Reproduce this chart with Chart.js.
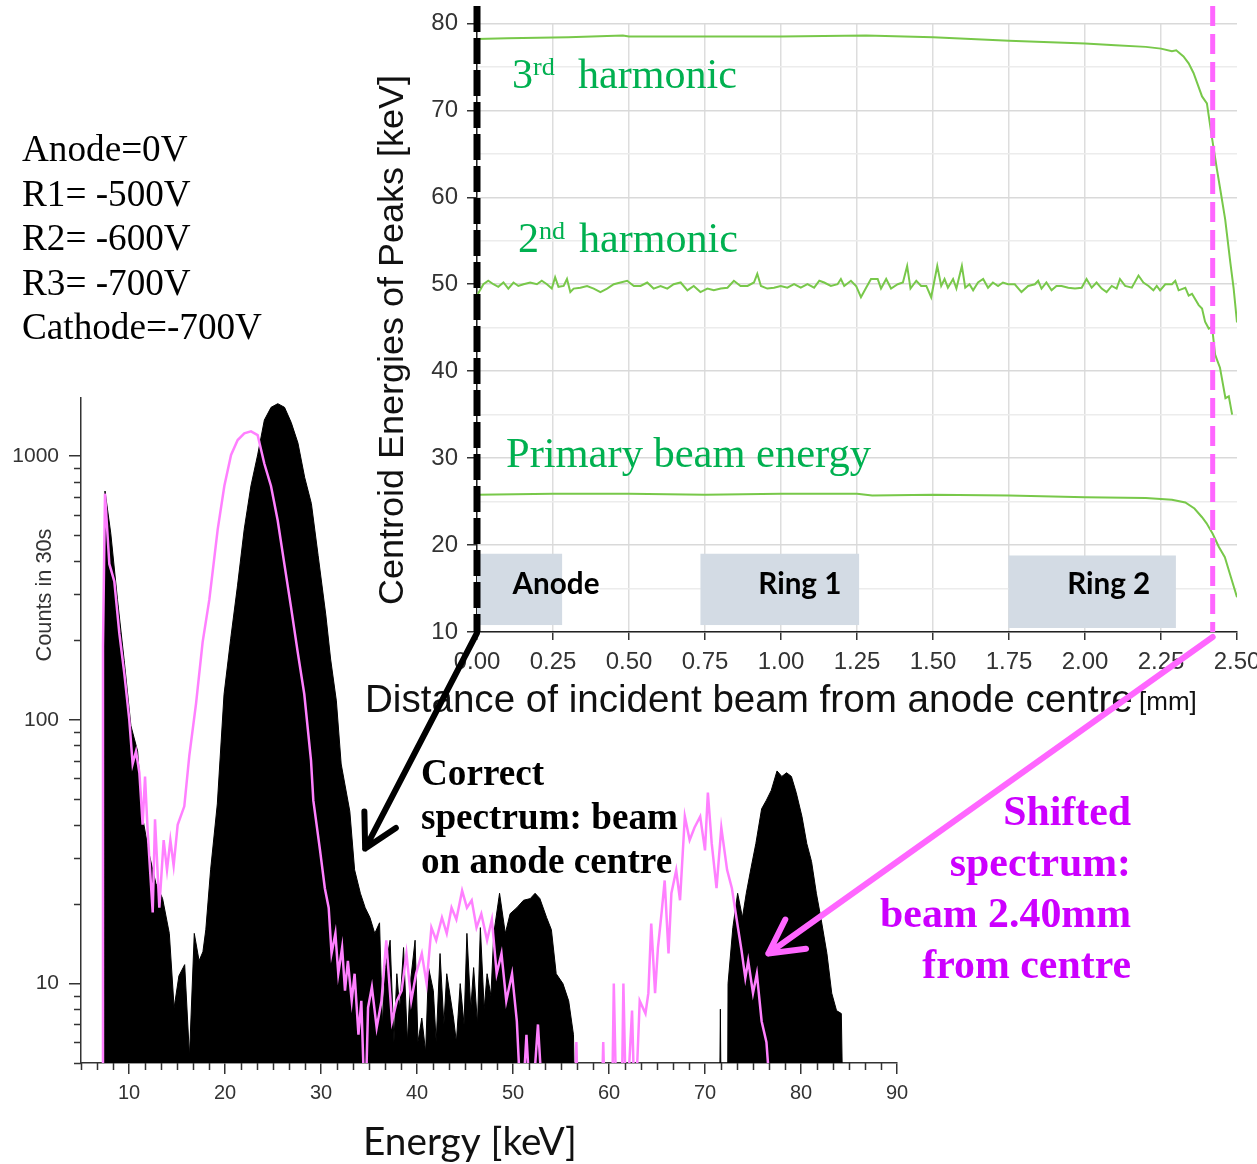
<!DOCTYPE html>
<html>
<head>
<meta charset="utf-8">
<script src="https://cdn.jsdelivr.net/npm/chart.js@4.4.1/dist/chart.umd.min.js"></script>
<style>
  html, body { margin: 0; padding: 0; background: #fff; overflow: hidden; }
  #wrap { position: relative; width: 1257px; height: 1164px; overflow: hidden; }
  canvas { position: absolute; left: 0; top: 0; }
</style>
</head>
<body>
<div id="wrap">
  <canvas id="spectrum" width="1320" height="1164"></canvas>
  <canvas id="centroid" width="1320" height="1164"></canvas>
</div>
<script>
'use strict';
// ---- spectrum (bottom left) ----
const energyTicks = [10, 20, 30, 40, 50, 60, 70, 80, 90];
const countTicks = [10, 100, 1000];

// correct spectrum: beam on anode centre
const correctE = [7.25, 7.3, 7.5, 8.1, 8.8, 9.5, 10.2, 10.9, 11.4, 12.1, 12.8, 13.5, 14.2, 14.7, 15.2, 15.8, 16.3, 16.8, 17.3, 17.7,
  18.0, 18.5, 19.2, 19.9, 20.6, 21.3, 22.0, 22.7, 23.4, 24.1, 24.8, 25.5, 26.2, 26.9, 27.6, 28.3, 29.0, 29.7, 30.5, 31.0,
  31.6, 32.1, 33.0, 33.5, 34.1, 34.6, 35.1, 35.6, 36.1, 36.4, 36.7, 37.2, 37.6, 37.9, 38.2, 38.6, 39.0, 39.3, 39.8, 40.1,
  40.5, 40.9, 41.2, 41.7, 42.0, 42.4, 42.8, 43.1, 43.8, 44.1, 44.5, 44.9, 45.2, 45.6, 45.9, 46.3, 46.6, 47.0, 47.3, 47.7,
  48.0, 48.6, 49.2, 49.7, 50.4, 51.1, 51.8, 52.3, 52.8, 53.5, 54.0, 54.5, 55.2, 55.8, 56.3, 56.7, 71.4, 71.6, 71.8, 72.3,
  72.4, 72.9, 73.4, 73.9, 74.3, 74.8, 75.3, 75.9, 76.4, 76.9, 77.5, 78.0, 78.5, 79.0, 79.5, 80.1, 80.6, 81.1, 81.6, 82.1,
  82.7, 83.2, 83.7, 84.2, 84.6];
const correctCounts = [1, 190, 737, 510, 286, 168, 95, 76, 43, 31, 24, 21, 15.5, 8.1, 10.7, 11.8, 5.3, 15.5, 12.2, 13.2,
  16, 27, 48, 125, 204, 322, 527, 770, 1010, 1370, 1530, 1580, 1530, 1340, 1120, 830, 660, 420, 250, 170,
  118, 68, 45, 27, 22, 19.4, 17.8, 15.5, 17, 7, 11.5, 14.6, 6, 10.9, 8, 13.7, 6, 10, 14.6, 6,
  7.4, 5.5, 11.5, 9.4, 6, 13, 7, 10.9, 7.4, 6, 10, 7, 15.5, 8, 11.5, 7, 16.3, 8, 10.9, 9,
  15.5, 22, 15.5, 18.4, 19.4, 20.7, 21, 22, 21, 17.8, 16, 10.9, 10, 8.6, 6.4, 1, 1, 8, 1, 1,
  10, 16.3, 22, 17.8, 22, 27.5, 34, 46, 49.6, 54, 64, 61, 63, 61, 53, 43, 34, 29, 22, 17.5,
  13, 9.2, 7.9, 7.7, 1];

// shifted spectrum: beam 2.40 mm from centre
const shiftedE = [7.25, 7.29, 7.5, 7.95, 8.47, 8.99, 9.51, 10.03, 10.38, 10.73, 11.08, 11.42, 11.67, 11.94, 12.47, 12.71, 13.16, 13.61, 13.96, 14.31,
  14.65, 15.07, 15.76, 16.28, 16.98, 17.67, 18.37, 19.24, 19.93, 20.63, 21.32, 22.01, 22.71, 23.4, 24.1, 24.79, 25.49, 26.18, 26.88, 27.57,
  28.26, 28.96, 29.2, 29.9, 30.4, 30.8, 31.1, 31.5, 31.8, 32.2, 32.5, 32.8, 33.2, 33.5, 33.9, 34.2, 34.6, 34.9, 35.3, 35.8,
  36.3, 36.8, 37.4, 37.9, 38.4, 38.9, 39.4, 39.9, 40.5, 41.0, 41.5, 42.0, 42.6, 43.1, 43.6, 44.1, 44.7, 45.2, 45.7, 46.2,
  46.7, 47.3, 47.8, 48.3, 48.8, 49.3, 49.9, 50.4, 50.9, 51.4, 51.9, 52.6, 53.2, 56.4, 56.6, 56.8, 59.2, 59.4, 59.6, 60.3,
  60.5, 60.8, 61.3, 61.5, 61.8, 62.4, 62.7, 63.2, 63.8, 64.1, 64.4, 64.8, 65.1, 65.5, 65.8, 66.2, 66.5, 67.0, 67.4, 67.9,
  68.4, 68.9, 69.5, 70.0, 70.3, 70.7, 71.2, 71.7, 72.3, 72.8, 73.3, 73.8, 74.2, 74.5, 75.0, 75.4, 75.9, 76.4, 77.0, 90];
const shiftedCounts = [3, 190, 720, 390, 335, 213, 150, 100, 68, 76, 63, 40, 61, 38, 18.6, 42, 19.4, 35, 27, 35,
  28, 40, 47, 73, 115, 197, 286, 527, 770, 1010, 1150, 1220, 1240, 1200, 935, 770, 570, 390, 267, 181,
  125, 70, 49.5, 32, 23, 19.4, 13, 15.5, 10.9, 13.7, 9.4, 12.2, 8.6, 10.9, 6.4, 8.6, 3, 8.1, 9.7, 6.8,
  8.6, 14.6, 7.2, 8.6, 9.4, 13, 8.6, 10.9, 13, 10, 16.3, 14.6, 17.8, 15.5, 19.4, 17.5, 22.5, 19.4, 20.7, 16.3,
  18.4, 14.6, 17.5, 10.9, 13, 8.6, 10.9, 7.2, 3, 6.4, 3, 7.0, 3, 3, 6, 3, 3, 6, 3, 3,
  10, 3, 3, 10, 3, 7.9, 3, 8.6, 7.7, 9.2, 16.9, 9.2, 13.7, 18.9, 24.6, 13, 22, 26.9, 20.7, 43,
  35, 39, 43, 32, 53, 34, 23, 39, 27, 23, 17.5, 13.4, 10.5, 12.2, 9.2, 10.9, 7.2, 6, 3, 3];

// ---- centroid energies (top right) ----
const harm3Pos = [0, 0.10, 0.30, 0.48, 0.50, 0.75, 1.00, 1.28, 1.50, 1.75, 2.00, 2.10, 2.20, 2.25, 2.286, 2.30, 2.324, 2.341, 2.357, 2.385,
  2.401, 2.417, 2.434, 2.445, 2.461, 2.478, 2.489, 2.500, 2.506];
const harm3Val = [78.2, 78.3, 78.4, 78.6, 78.5, 78.5, 78.5, 78.6, 78.4, 78.0, 77.7, 77.5, 77.3, 77.1, 76.8, 76.9, 76.2, 75.4, 74.3, 71.6,
  70.8, 67.0, 63.2, 60.9, 57.5, 52.5, 49.5, 45.6, 43.4];

const harm2Pos = [0.000, 0.021, 0.037, 0.054, 0.070, 0.087, 0.103, 0.120, 0.136, 0.153, 0.175, 0.197, 0.213, 0.230, 0.246, 0.257, 0.268, 0.285, 0.296, 0.307,
  0.318, 0.340, 0.362, 0.384, 0.406, 0.428, 0.450, 0.472, 0.494, 0.516, 0.538, 0.560, 0.581, 0.604, 0.626, 0.647, 0.670, 0.692, 0.713, 0.735,
  0.758, 0.779, 0.802, 0.824, 0.845, 0.867, 0.890, 0.911, 0.922, 0.934, 0.955, 0.977, 0.999, 1.021, 1.043, 1.065, 1.087, 1.109, 1.126, 1.142,
  1.164, 1.186, 1.197, 1.208, 1.230, 1.247, 1.263, 1.280, 1.296, 1.318, 1.329, 1.346, 1.362, 1.384, 1.401, 1.415, 1.426, 1.445, 1.461, 1.478,
  1.494, 1.514, 1.527, 1.538, 1.549, 1.566, 1.577, 1.595, 1.606, 1.620, 1.632, 1.648, 1.665, 1.681, 1.697, 1.714, 1.730, 1.747, 1.769, 1.791,
  1.813, 1.835, 1.846, 1.857, 1.873, 1.890, 1.906, 1.923, 1.945, 1.967, 1.989, 2.005, 2.022, 2.038, 2.055, 2.071, 2.088, 2.104, 2.115, 2.132,
  2.154, 2.176, 2.192, 2.209, 2.225, 2.236, 2.247, 2.264, 2.286, 2.297, 2.308, 2.330, 2.341, 2.352, 2.374, 2.385, 2.395, 2.407, 2.418, 2.428,
  2.444, 2.462, 2.473, 2.484];
const harm2Val = [48.7, 50.0, 50.4, 50.0, 49.7, 50.2, 49.5, 50.2, 49.8, 50.0, 50.2, 50.0, 50.4, 50.0, 49.5, 50.8, 49.7, 49.8, 50.6, 49.1,
  49.5, 49.6, 49.8, 49.5, 49.1, 49.5, 50.0, 50.2, 50.4, 49.8, 49.8, 50.2, 49.5, 49.8, 49.5, 50.0, 50.2, 49.3, 49.8, 49.1,
  49.5, 49.3, 49.5, 49.6, 50.4, 49.8, 49.8, 50.2, 51.2, 49.8, 49.5, 49.6, 49.8, 49.6, 50.0, 49.6, 50.0, 49.6, 50.4, 50.2,
  49.8, 50.0, 50.6, 49.8, 50.4, 49.8, 48.5, 49.6, 50.6, 50.6, 49.5, 50.6, 49.5, 50.0, 50.2, 52.1, 49.5, 50.4, 49.8, 49.8,
  48.5, 52.1, 49.8, 50.6, 49.6, 50.6, 49.5, 52.1, 49.6, 50.0, 49.3, 50.2, 50.6, 49.6, 50.2, 49.8, 50.2, 50.0, 50.0, 49.1,
  49.8, 50.0, 50.4, 49.5, 50.2, 49.3, 49.8, 49.8, 49.6, 49.5, 49.6, 50.6, 49.6, 50.2, 49.5, 49.1, 49.8, 49.5, 50.6, 49.8,
  49.6, 51.0, 50.2, 49.8, 49.3, 49.8, 49.3, 50.0, 50.0, 50.4, 49.3, 49.6, 48.7, 48.9, 47.6, 47.2, 45.7, 44.9, 45.1, 41.9,
  40.4, 36.9, 37.1, 35.0];

const primaryPos = [0, 0.25, 0.50, 0.75, 1.00, 1.25, 1.30, 1.50, 1.75, 2.00, 2.20, 2.286, 2.33, 2.36, 2.385, 2.40, 2.42, 2.44, 2.46, 2.48, 2.50];
const primaryVal = [25.8, 25.9, 25.9, 25.8, 25.9, 25.9, 25.7, 25.8, 25.7, 25.5, 25.4, 25.2, 24.9, 24.2, 23.2, 22.5, 21.3, 19.8, 18.6, 16.3, 14.0];

const shiftedPos = 2.42;   // mm, pink marker
const electrodes = [
  { name: 'Anode', from: 0, to: 0.28, low: 10.8, high: 19.0, textAt: 0.26 },
  { name: 'Ring 1', from: 0.735, to: 1.257, low: 10.8, high: 19.0, textAt: 1.062 },
  { name: 'Ring 2', from: 1.748, to: 2.299, low: 10.46, high: 18.8, textAt: 2.078 }
];
const voltages = ['Anode=0V', 'R1= -500V', 'R2= -600V', 'R3= -700V', 'Cathode=-700V'];

function toPoints(xs, ys) {
  return xs.map((x, i) => ({ x: x, y: ys[i] }));
}

function fitFont(ctx, text, weight, family, width) {
  ctx.font = weight + ' 100px "' + family + '"';
  return 100 * width / ctx.measureText(text).width;
}

function put(ctx, text, x, y, font, color, align) {
  ctx.font = font;
  ctx.fillStyle = color;
  ctx.textAlign = align || 'left';
  ctx.textBaseline = 'alphabetic';
  ctx.fillText(text, x, y);
}

function arrow(ctx, x1, y1, x2, y2, color, w, head, spread) {
  const a = Math.atan2(y1 - y2, x1 - x2);
  ctx.save();
  ctx.strokeStyle = color;
  ctx.lineWidth = w;
  ctx.lineCap = 'round';
  ctx.lineJoin = 'round';
  ctx.beginPath();
  ctx.moveTo(x1, y1);
  ctx.lineTo(x2, y2);
  ctx.moveTo(x2 + head * Math.cos(a - spread), y2 + head * Math.sin(a - spread));
  ctx.lineTo(x2, y2);
  ctx.lineTo(x2 + head * Math.cos(a + spread), y2 + head * Math.sin(a + spread));
  ctx.stroke();
  ctx.restore();
}

const spectrumDecor = {
  id: 'spectrumDecor',
  afterDraw(chart) {
    const { ctx, chartArea } = chart;
    const x = chart.scales.x, y = chart.scales.y;
    ctx.save();
    // minor ticks
    ctx.strokeStyle = '#333';
    ctx.lineWidth = 1.5;
    ctx.beginPath();
    for (let i = 0; i <= 51; i++) {
      const v = 5 + i * 10 / 6;
      if (Math.abs(v / 10 - Math.round(v / 10)) < 1e-6) continue;
      const px = Math.round(x.getPixelForValue(v)) + 0.5;
      ctx.moveTo(px, chartArea.bottom);
      ctx.lineTo(px, chartArea.bottom + 7);
    }
    [1, 10, 100].forEach(d => {
      for (let m = 2; m <= 9; m++) {
        const v = d * m;
        if (v < 5 || v > 1660) continue;
        const py = Math.round(y.getPixelForValue(v)) + 0.5;
        ctx.moveTo(chartArea.left - 7, py);
        ctx.lineTo(chartArea.left, py);
      }
    });
    ctx.stroke();

    // axis titles
    ctx.save();
    ctx.translate(45, 595);
    ctx.rotate(-Math.PI / 2);
    const cs = fitFont(ctx, 'Counts in 30s', '', 'Liberation Sans', 133);
    ctx.font = cs + 'px "Liberation Sans"';
    ctx.fillStyle = '#333';
    ctx.textAlign = 'center';
    ctx.textBaseline = 'middle';
    ctx.fillText('Counts in 30s', 0, 0);
    ctx.restore();
    const es = fitFont(ctx, 'Energy [keV]', '', 'Lato', 214);
    put(ctx, 'Energy [keV]', 363, 1155, es + 'px "Lato"', '#111');

    // electrode voltages
    const vs = fitFont(ctx, voltages[4], '', 'Liberation Serif', 240);
    voltages.forEach((t, i) => put(ctx, t, 22, 161 + i * 44.5, vs + 'px "Liberation Serif"', '#000'));

    // correct spectrum note
    const bs = fitFont(ctx, 'spectrum: beam', 'bold', 'Liberation Serif', 257);
    ['Correct', 'spectrum: beam', 'on anode centre'].forEach((t, i) =>
      put(ctx, t, 421, 785 + i * 44, 'bold ' + bs + 'px "Liberation Serif"', '#000'));

    // shifted spectrum note
    const ss = fitFont(ctx, 'beam 2.40mm', 'bold', 'Liberation Serif', 251);
    ['Shifted', 'spectrum:', 'beam 2.40mm', 'from centre'].forEach((t, i) =>
      put(ctx, t, 1131, 825 + i * 51, 'bold ' + ss + 'px "Liberation Serif"', '#cc00ff', 'right'));
    ctx.restore();
  }
};

const spectrumChart = new Chart(document.getElementById('spectrum'), {
  type: 'line',
  data: {
    datasets: [
      {
        label: 'Shifted spectrum',
        data: toPoints(shiftedE, shiftedCounts),
        borderColor: '#ff80ff',
        borderWidth: 2.5,
        pointRadius: 0,
        fill: false,
        order: 0
      },
      {
        label: 'Correct spectrum',
        data: toPoints(correctE, correctCounts),
        borderColor: '#000',
        backgroundColor: '#000',
        borderWidth: 1,
        pointRadius: 0,
        fill: 'start',
        order: 1
      }
    ]
  },
  options: {
    responsive: false,
    animation: false,
    devicePixelRatio: 1,
    layout: { padding: { left: 0, top: 398, right: 1320 - 897, bottom: 0 } },
    plugins: { legend: { display: false }, tooltip: { enabled: false } },
    scales: {
      x: {
        type: 'linear',
        min: 5,
        max: 90,
        afterFit: s => { s.height = 1164 - 1063; },
        afterBuildTicks: s => { s.ticks = energyTicks.map(v => ({ value: v })); },
        grid: { drawOnChartArea: false, drawTicks: true, tickLength: 11, color: '#333', lineWidth: 1.5 },
        border: { display: true, color: '#333', width: 1.5 },
        ticks: { color: '#333', font: { family: 'Liberation Sans', size: 20 }, padding: 7, maxRotation: 0, autoSkip: false }
      },
      y: {
        type: 'logarithmic',
        min: 5,
        max: 1660,
        afterFit: s => { s.width = 81; },
        afterBuildTicks: s => { s.ticks = countTicks.map(v => ({ value: v })); },
        grid: { drawOnChartArea: false, drawTicks: true, tickLength: 12, color: '#333', lineWidth: 1.5 },
        border: { display: true, color: '#333', width: 1.5 },
        ticks: { color: '#333', font: { family: 'Liberation Sans', size: 21 }, padding: 10, callback: v => String(v) }
      }
    }
  },
  plugins: [spectrumDecor]
});

const centroidDecor = {
  id: 'centroidDecor',
  beforeDatasetsDraw(chart) {
    const { ctx } = chart;
    const x = chart.scales.x, y = chart.scales.y;
    ctx.save();
    const ls = fitFont(ctx, 'Anode', 'bold', 'Lato', 87);
    electrodes.forEach(e => {
      const l = x.getPixelForValue(e.from), r = x.getPixelForValue(e.to);
      const t = y.getPixelForValue(e.high), b = y.getPixelForValue(e.low);
      ctx.fillStyle = '#d3dbe4';
      ctx.fillRect(l, t, r - l, b - t);
      ctx.font = 'bold ' + ls + 'px "Lato"';
      ctx.fillStyle = '#000';
      ctx.textAlign = 'center';
      ctx.textBaseline = 'middle';
      ctx.fillText(e.name, x.getPixelForValue(e.textAt), y.getPixelForValue(15.5));
    });
    ctx.restore();
  },
  afterDraw(chart) {
    const { ctx } = chart;
    const x = chart.scales.x, y = chart.scales.y;
    const sx = spectrumChart.scales.x, sy = spectrumChart.scales.y;
    ctx.save();

    // green labels
    const gs = fitFont(ctx, 'harmonic', '', 'Liberation Serif', 159);
    const gf = gs + 'px "Liberation Serif"';
    const sf = (gs * 0.62) + 'px "Liberation Serif"';
    put(ctx, '3', 512, 88, gf, '#00b050');
    put(ctx, 'rd', 533, 75, sf, '#00b050');
    put(ctx, 'harmonic', 578, 88, gf, '#00b050');
    put(ctx, '2', 518, 252, gf, '#00b050');
    put(ctx, 'nd', 539, 239, sf, '#00b050');
    put(ctx, 'harmonic', 579, 252, gf, '#00b050');
    const ps = fitFont(ctx, 'Primary beam energy', '', 'Liberation Serif', 365);
    put(ctx, 'Primary beam energy', 506, 467, ps + 'px "Liberation Serif"', '#00b050');

    // axis titles
    ctx.save();
    ctx.translate(393, 340);
    ctx.rotate(-Math.PI / 2);
    const ys = fitFont(ctx, 'Centroid Energies of Peaks [keV]', '', 'Liberation Sans', 530);
    ctx.font = ys + 'px "Liberation Sans"';
    ctx.fillStyle = '#111';
    ctx.textAlign = 'center';
    ctx.textBaseline = 'middle';
    ctx.fillText('Centroid Energies of Peaks [keV]', 0, 0);
    ctx.restore();
    const xs = fitFont(ctx, 'Distance of incident beam from anode centre', '', 'Liberation Sans', 768);
    put(ctx, 'Distance of incident beam from anode centre', 365, 712, xs + 'px "Liberation Sans"', '#111');
    put(ctx, '[mm]', 1139, 710, '26px "Liberation Sans"', '#111');

    // beam position markers
    const x0 = x.getPixelForValue(0);
    const xp = x.getPixelForValue(shiftedPos);
    ctx.lineCap = 'butt';
    ctx.strokeStyle = '#000';
    ctx.lineWidth = 7;
    ctx.setLineDash([26, 6]);
    ctx.beginPath();
    ctx.moveTo(x0, 6);
    ctx.lineTo(x0, y.bottom);
    ctx.stroke();
    ctx.strokeStyle = '#ff66ff';
    ctx.lineWidth = 5;
    ctx.setLineDash([20, 8]);
    ctx.beginPath();
    ctx.moveTo(xp, 6);
    ctx.lineTo(xp, y.bottom);
    ctx.stroke();
    ctx.setLineDash([]);

    // arrows to the spectra
    arrow(ctx, x0, y.bottom + 1, sx.getPixelForValue(34.6), sy.getPixelForValue(32.5), '#000', 6, 37, 0.5);
    arrow(ctx, xp, y.bottom + 5, sx.getPixelForValue(76.6), sy.getPixelForValue(13), '#ff66ff', 6, 38, 0.49);
    ctx.restore();
  }
};

const lineStyle = { borderColor: '#78c84a', borderWidth: 2, pointRadius: 0, fill: false, tension: 0 };

new Chart(document.getElementById('centroid'), {
  type: 'line',
  data: {
    datasets: [
      Object.assign({ label: '3rd harmonic', data: toPoints(harm3Pos, harm3Val) }, lineStyle),
      Object.assign({ label: '2nd harmonic', data: toPoints(harm2Pos, harm2Val) }, lineStyle),
      Object.assign({ label: 'Primary beam energy', data: toPoints(primaryPos, primaryVal) }, lineStyle)
    ]
  },
  options: {
    responsive: false,
    animation: false,
    devicePixelRatio: 1,
    layout: { padding: { left: 0, top: 20, right: 1320 - 1237, bottom: 0 } },
    plugins: { legend: { display: false }, tooltip: { enabled: false } },
    scales: {
      x: {
        type: 'linear',
        min: 0,
        max: 2.5,
        afterFit: s => { s.height = 1164 - 632; },
        grid: {
          color: c => (c.tick && c.tick.value >= 2.5) ? 'rgba(0,0,0,0)' : '#dddddd',
          lineWidth: 1.5,
          drawTicks: true,
          tickLength: 8,
          tickColor: '#333'
        },
        border: { display: true, color: '#222', width: 1.5 },
        ticks: {
          stepSize: 0.25,
          autoSkip: false,
          maxRotation: 0,
          padding: 8,
          color: '#333',
          font: { family: 'Liberation Sans', size: 24 },
          callback: v => Number(v).toFixed(2)
        }
      },
      y: {
        type: 'linear',
        min: 10,
        max: 80,
        afterFit: s => { s.width = 477; },
        grid: {
          color: c => (c.tick && c.tick.value % 10 === 0) ? '#d9d9d9' : '#ececec',
          lineWidth: 1.5,
          drawTicks: true,
          tickLength: 10,
          tickColor: c => (c.tick && c.tick.value % 10 === 0) ? '#333' : 'rgba(0,0,0,0)'
        },
        border: { display: true, color: '#222', width: 1.5 },
        ticks: {
          stepSize: 5,
          autoSkip: false,
          padding: 9,
          color: '#333',
          font: { family: 'Liberation Sans', size: 24 },
          callback: v => (v % 10 === 0 ? String(v) : '')
        }
      }
    }
  },
  plugins: [centroidDecor]
});
</script>
</body>
</html>
